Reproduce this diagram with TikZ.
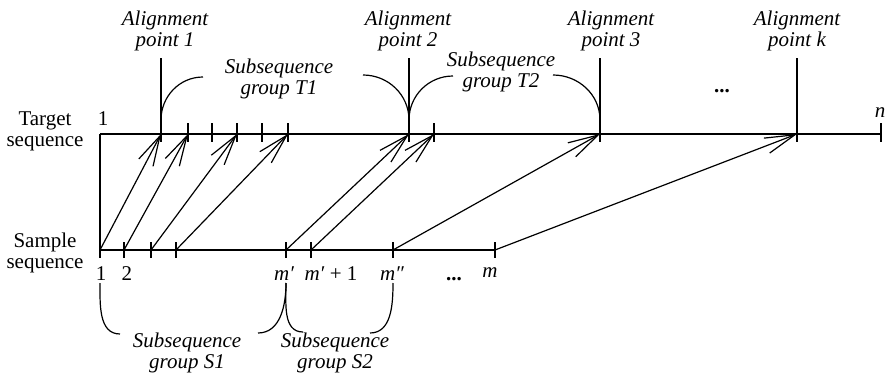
\documentclass[tikz,border=0pt]{standalone}
\usepackage{fontspec}
\setmainfont{Liberation Serif}
\usetikzlibrary{arrows.meta}
\newcommand{\seqfont}{\fontsize{10.5}{10.5}\selectfont}
\newcommand{\tickhi}{5.5pt}
\newcommand{\ticklo}{4pt}
\tikzset{
  seqline/.style={line width=1pt},
  mapline/.style={line width=0.6pt, -{Straight Barb[length=15pt,width=8pt]}},
  bracket/.style={line width=0.6pt},
  plain/.style={font=\seqfont, align=center, inner sep=0pt},
  slanted/.style={font=\seqfont\itshape, align=center, inner sep=0pt},
}
\newcommand{\alignpoint}[4]{%
  \coordinate (#1) at (#2,-134);
  \draw[seqline] ([yshift=38pt]#1) -- ([yshift=-\ticklo]#1);
  \node[slanted] (#1lbl) at (#3,-31) {Alignment\\point #4};}

\begin{document}
\begin{tikzpicture}[x=0.5pt,y=0.5pt]
  \useasboundingbox (0,0) rectangle (885,-375);
  % target sequence
  \coordinate (t0) at (100,-134);
  \coordinate (tn) at (881,-134);
  \draw[seqline] (t0) -- (tn);
  \draw[seqline] ([yshift=\tickhi]tn) -- ([yshift=-\ticklo]tn);
  \foreach \n/\x in {tb/188,tc/212,td/237,te/262,tf/288,th/434} {
    \coordinate (\n) at (\x,-134);
    \draw[seqline] ([yshift=\tickhi]\n) -- ([yshift=-\ticklo]\n);
  }
  \alignpoint{ta}{161}{165}{1}
  \alignpoint{tg}{409}{408}{2}
  \alignpoint{ti}{600}{611}{3}
  \alignpoint{tj}{797}{797}{k}
  \node[plain] (tgtname) at (45,-131) {Target\\sequence};
  \node[plain, anchor=base] (tfirst) at (103,-125) {1};
  \node[slanted, anchor=base] (tlast) at (880,-117) {n};
  \node[plain, font=\seqfont\bfseries, anchor=base] (tdots) at (722,-92) {...};
  % sample sequence
  \foreach \n/\x in {s1/100,s2/124,s3/151,s4/176,s5/286,s6/311,s7/393,s8/495} {
    \coordinate (\n) at (\x,-250);
    \draw[seqline] ([yshift=4pt]\n) -- ([yshift=-4pt]\n);
  }
  \draw[seqline] (s1) -- (s8);
  \draw[seqline] (t0) -- (s1);
  \node[plain] (smpname) at (45,-253) {Sample\\sequence};
  \node[plain, anchor=base] (sn1) at (101,-280) {1};
  \node[plain, anchor=base] (sn2) at (127,-280) {2};
  \node[slanted, anchor=base] (snm1) at (284,-280) {m′};
  \node[plain, anchor=base] (snm2) at (331,-280) {\textit{m′} + 1};
  \node[slanted, anchor=base] (snm3) at (392,-280) {m″};
  \node[plain, font=\seqfont\bfseries, anchor=base] (sdots) at (454,-280) {...};
  \node[slanted, anchor=base] (snm) at (490,-277) {m};
  % mapping
  \foreach \a/\b in {s1/ta,s2/tb,s3/td,s4/tf,s5/tg,s6/th,s7/ti,s8/tj}
    \draw[mapline] (\a) -- (\b);
  % subsequence groups
  \node[slanted] (grpT1) at (279,-79) {Subsequence\\group T1};
  \node[slanted] (grpT2) at (501,-72) {Subsequence\\group T2};
  \node[slanted] (grpS1) at (187,-353) {Subsequence\\group S1};
  \node[slanted] (grpS2) at (335,-353) {Subsequence\\group S2};
  \coordinate (t1l) at (203,-77);
  \coordinate (t1r) at (363,-75);
  \coordinate (t2l) at (453,-76);
  \coordinate (t2r) at (553,-75);
  \coordinate (s1l) at (120,-334);
  \coordinate (s1r) at (258,-333);
  \coordinate (s2l) at (303,-332);
  \coordinate (s2r) at (370,-333);
  \draw[bracket] ([yshift=7pt]ta) to[out=90,in=180] (t1l);
  \draw[bracket] (t1r) to[out=0,in=90] ([yshift=7pt]tg);
  \draw[bracket] ([yshift=7pt]tg) to[out=90,in=180] (t2l);
  \draw[bracket] (t2r) to[out=0,in=90] ([yshift=7pt]ti);
  \draw[bracket] ([yshift=-16.5pt]s1) to[out=-90,in=180] (s1l);
  \draw[bracket] (s1r) to[out=0,in=-90] ([yshift=-16.5pt]s5);
  \draw[bracket] ([yshift=-16.5pt]s5) to[out=-90,in=180] (s2l);
  \draw[bracket] (s2r) to[out=0,in=-90] ([yshift=-16.5pt]s7);
\end{tikzpicture}
\end{document}
